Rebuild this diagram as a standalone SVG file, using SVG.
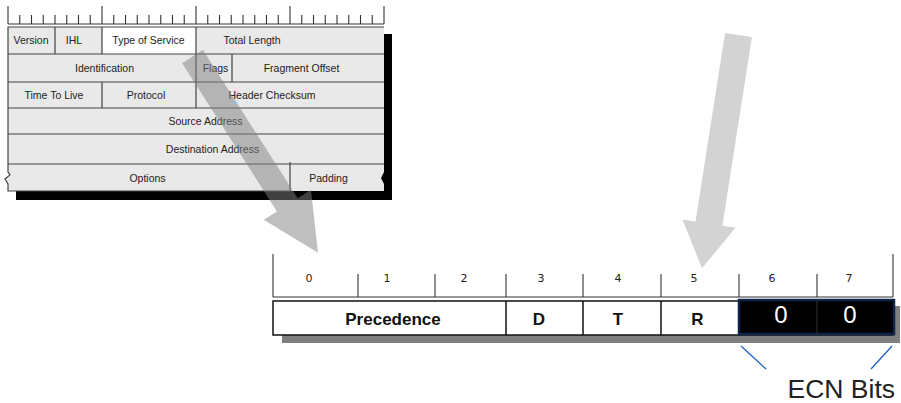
<svg xmlns="http://www.w3.org/2000/svg" width="901" height="403" viewBox="0 0 901 403">
<style>
.grid{stroke:#444;stroke-width:1.2;fill:none}
.cell{fill:#e9e9e9}
.t{font-family:"Liberation Sans",Arial,sans-serif;font-size:10.5px;fill:#222;text-anchor:middle}
.tick{stroke:#333;stroke-width:1.1}
.bit{font-family:"DejaVu Sans",Verdana,sans-serif;font-size:11px;fill:#222;text-anchor:middle}
.b{font-family:"Liberation Sans",Arial,sans-serif;font-weight:bold;font-size:17px;fill:#111;text-anchor:middle}
.box{stroke:#111;stroke-width:1.5;fill:none}
.blue{stroke:#1f5fc4;stroke-width:1.3}
</style>
<rect width="901" height="403" fill="#fff"/>
<g id="ipheader">
  <!-- ruler -->
  <g>
    <line class="tick" x1="8" y1="24" x2="384" y2="24"/>
    <line class="tick" x1="8" y1="6" x2="8" y2="24"/>
    <line class="tick" x1="102" y1="6" x2="102" y2="24"/>
    <line class="tick" x1="196" y1="6" x2="196" y2="24"/>
    <line class="tick" x1="290" y1="6" x2="290" y2="24"/>
    <line class="tick" x1="384" y1="6" x2="384" y2="24"/>
    <path class="tick" d="M19.75 15V24M31.5 15V24M43.25 15V24M55 15V24M66.75 15V24M78.5 15V24M90.25 15V24M113.75 15V24M125.5 15V24M137.25 15V24M149 15V24M160.75 15V24M172.5 15V24M184.25 15V24M207.75 15V24M219.5 15V24M231.25 15V24M243 15V24M254.75 15V24M266.5 15V24M278.25 15V24M301.75 15V24M313.5 15V24M325.25 15V24M337 15V24M348.75 15V24M360.5 15V24M372.25 15V24"/>
  </g>
  <!-- shadow -->
  <rect x="16" y="34" width="376" height="166" fill="#000"/>
  <!-- cells -->
  <rect class="cell" x="8" y="27" width="376" height="137"/>
  <rect x="102" y="27" width="94" height="27" fill="#fff"/>
  <path class="cell" d="M8 164H384V172L381 178L384 184V191H8V184L5 179L10 175L8 172Z"/>
  <path class="grid" d="M384 27H8V172L10 175L5 179L8 184V191H290"/>
  <path class="grid" d="M8 54H384M8 82H384M8 108H384M8 134H384M8 164H384"/>
  <path class="grid" d="M55 27V54M102 27V54M196 27V54M196 54V82M232 54V82M102 82V108M196 82V108M290 162V191"/>
  <text class="t" x="31" y="44">Version</text>
  <text class="t" x="74" y="44">IHL</text>
  <text class="t" x="148.5" y="44">Type of Service</text>
  <text class="t" x="252" y="44">Total Length</text>
  <text class="t" x="104.5" y="72">Identification</text>
  <text class="t" x="215.5" y="72">Flags</text>
  <text class="t" x="301.5" y="72">Fragment Offset</text>
  <text class="t" x="54" y="99">Time To Live</text>
  <text class="t" x="146" y="99">Protocol</text>
  <text class="t" x="272" y="99">Header Checksum</text>
  <text class="t" x="205.5" y="125">Source Address</text>
  <text class="t" x="212.5" y="153">Destination Address</text>
  <text class="t" x="147.5" y="182">Options</text>
  <text class="t" x="328.5" y="182">Padding</text>
</g>
<g id="tosbyte">
  <rect x="282" y="306" width="618" height="37" fill="#808080"/>
  <rect x="273" y="301" width="620" height="34" fill="#fff"/>
  <line class="tick" x1="273" y1="297" x2="893" y2="297"/>
  <path class="tick" d="M273 254V297M893 254V297M358 274V297M435 274V297M506 274V297M583 274V297M661 274V297M739 274V297M817 274V297"/>
  <text class="bit" x="309" y="282">0</text>
  <text class="bit" x="387" y="282">1</text>
  <text class="bit" x="464" y="282">2</text>
  <text class="bit" x="541" y="282">3</text>
  <text class="bit" x="618" y="282">4</text>
  <text class="bit" x="694" y="282">5</text>
  <text class="bit" x="772" y="282">6</text>
  <text class="bit" x="849" y="282">7</text>
  <rect class="box" x="273" y="301" width="620" height="34"/>
  <path class="box" d="M506 301V335M583 301V335M661 301V335M739 301V335"/>
  <text class="b" x="393" y="325">Precedence</text>
  <text class="b" x="539" y="325">D</text>
  <text class="b" x="618" y="325">T</text>
  <text class="b" x="697.5" y="325">R</text>
</g>
<g id="ecn">
  <rect x="739" y="300" width="155" height="34" fill="#000" stroke="#0f2449" stroke-width="2.5"/>
  <line x1="817" y1="301" x2="817" y2="334" stroke="#333" stroke-width="1"/>
  <text x="781" y="323" font-family="Liberation Sans, Arial, sans-serif" font-size="24" fill="#fff" text-anchor="middle">0</text>
  <text x="850" y="323" font-family="Liberation Sans, Arial, sans-serif" font-size="24" fill="#fff" text-anchor="middle">0</text>
  <text x="895" y="398" font-family="Liberation Sans, Arial, sans-serif" font-size="26.5" fill="#222" text-anchor="end">ECN Bits</text>
</g>
<g id="connectors">
  <line class="blue" x1="741" y1="346" x2="766" y2="369"/>
  <line class="blue" x1="892" y1="346" x2="871" y2="369"/>
  <polygon transform="translate(192.5 56.5) rotate(57.4)" points="0,-12.3 176,-12.3 176,-28 233,0 176,28 176,12.3 0,12.3" fill="#808080" fill-opacity="0.5"/>
  <polygon transform="translate(738.5 35) rotate(98.9)" points="0,-13.6 191,-13.6 191,-26.8 236,0 191,26.8 191,13.6 0,13.6" fill="#d3d3d3"/>
</g>
</svg>
